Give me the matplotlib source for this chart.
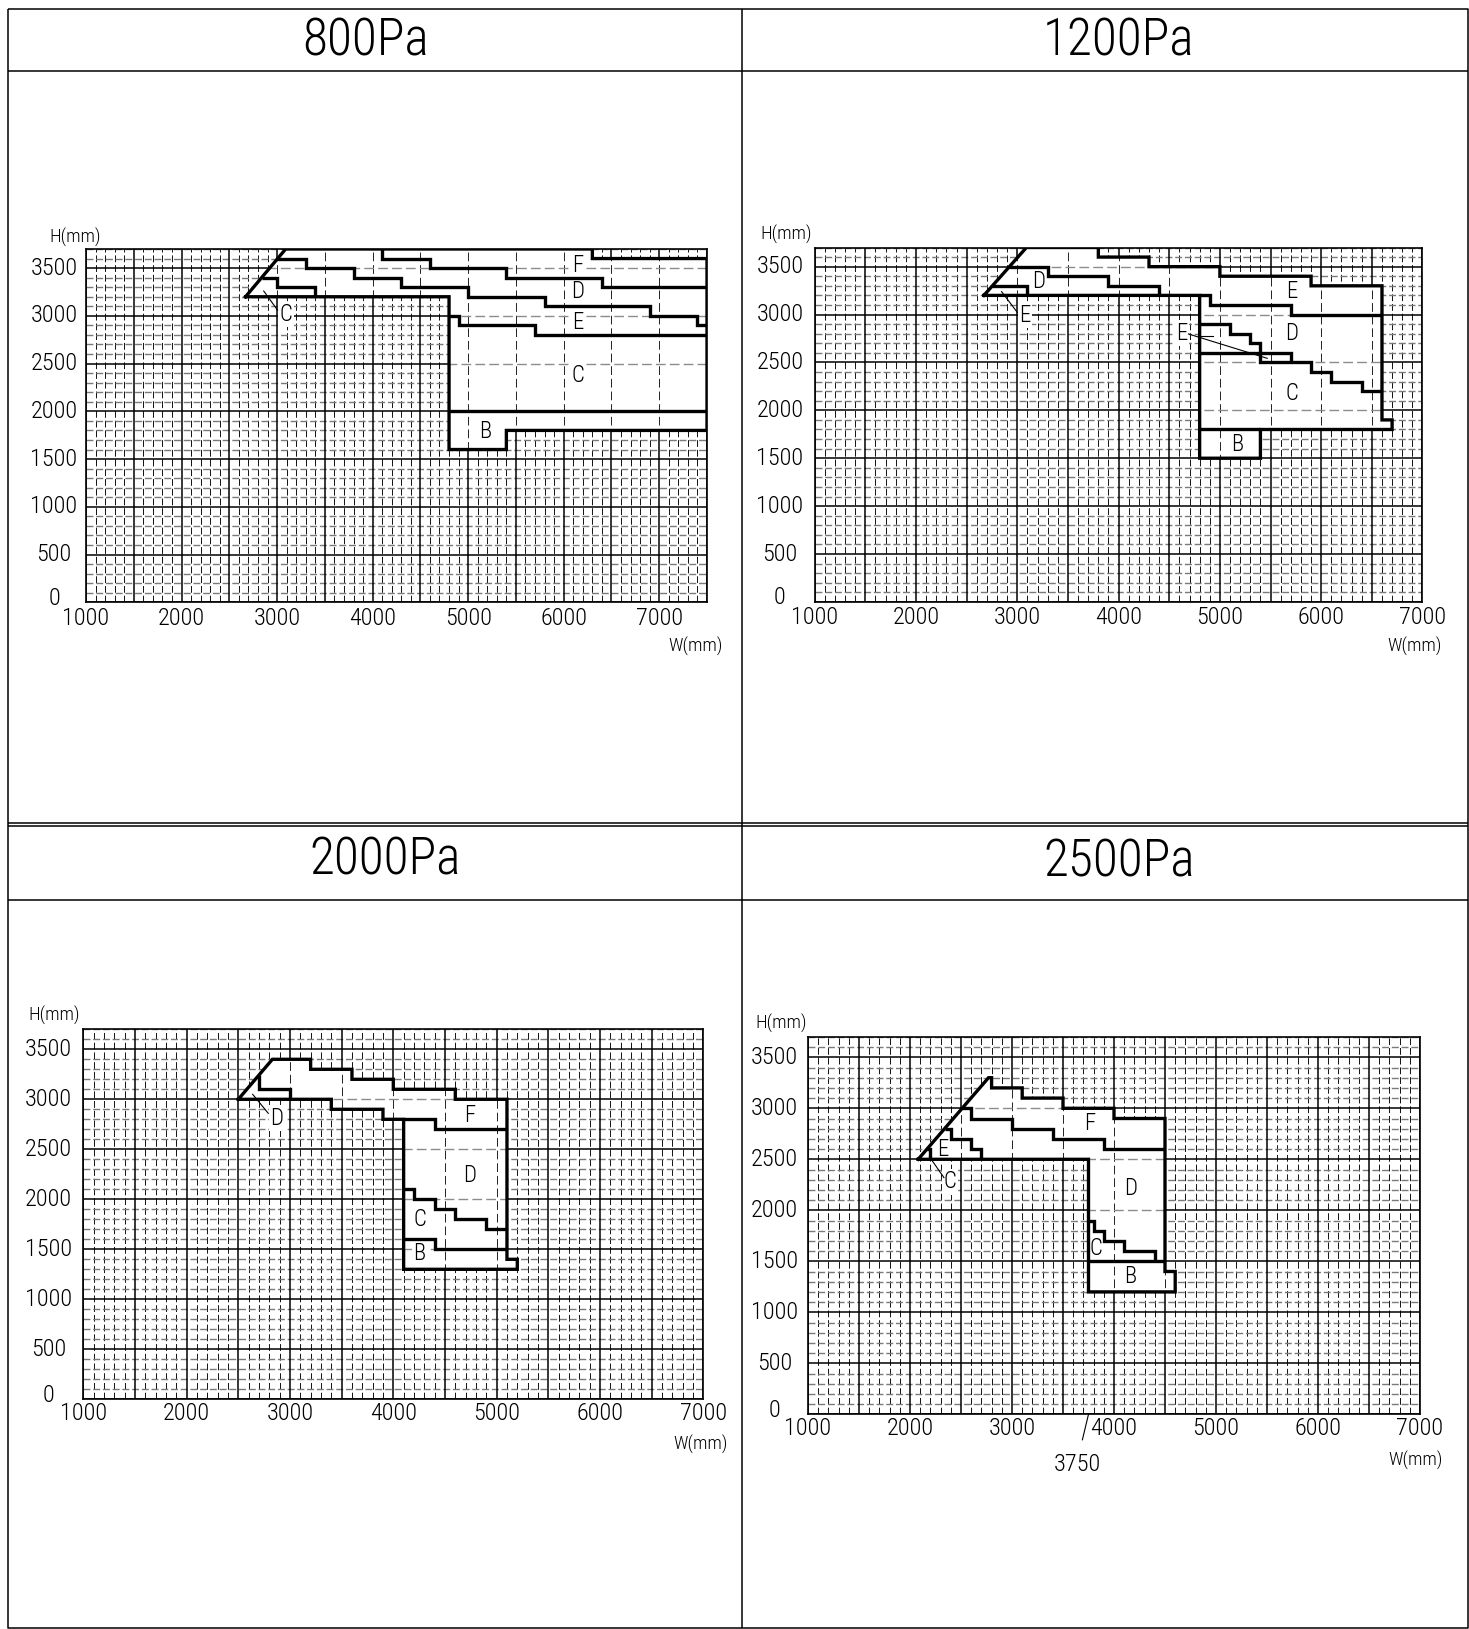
import matplotlib
matplotlib.use('Agg')
import matplotlib.pyplot as plt
from matplotlib.patches import Polygon
from matplotlib import font_manager as fm
import numpy as np

# ---------------- data ----------------
titles = ['800Pa', '1200Pa', '2000Pa', '2500Pa']
x_max = [7500, 7000, 7000, 7000]
x_tick_vals = [1000, 2000, 3000, 4000, 5000, 6000, 7000]
y_tick_vals = [0, 500, 1000, 1500, 2000, 2500, 3000, 3500]

# ---- 800Pa ----
p1_outer_w = [2670, 3090, 6300, 6300, 7500, 7500, 5400, 5400, 4800, 4800]
p1_outer_h = [3200, 3700, 3700, 3600, 3600, 1800, 1800, 1600, 1600, 3200]
p1_fd_w = [4100, 4100, 4600, 4600, 5400, 5400, 6400, 6400, 7500]
p1_fd_h = [3700, 3600, 3600, 3500, 3500, 3400, 3400, 3300, 3300]
p1_de_w = [3004, 3300, 3300, 3800, 3800, 4300, 4300, 5000, 5000, 5800, 5800, 6900, 6900, 7400, 7400, 7500]
p1_de_h = [3600, 3600, 3500, 3500, 3400, 3400, 3300, 3300, 3200, 3200, 3100, 3100, 3000, 3000, 2900, 2900]
p1_ec_w = [4800, 4900, 4900, 5700, 5700, 7500]
p1_ec_h = [3000, 3000, 2900, 2900, 2800, 2800]
p1_c_w = [2838, 3000, 3000, 3400, 3400]
p1_c_h = [3400, 3400, 3300, 3300, 3200]
p1_cb_w = [4800, 7500]
p1_cb_h = [2000, 2000]
p1_labels = [('F', 6150, 3530), ('D', 6150, 3250), ('E', 6150, 2930),
             ('C', 6150, 2380), ('B', 5180, 1790), ('C', 3095, 3015)]
p1_leaders = [((2860, 3260), (3005, 3060))]

# ---- 1200Pa ----
p2_outer_w = [2670, 3090, 3800, 3800, 4300, 4300, 5000, 5000, 5900, 5900, 6600, 6600, 6700, 6700, 5400, 5400, 4800, 4800]
p2_outer_h = [3200, 3700, 3700, 3600, 3600, 3500, 3500, 3400, 3400, 3300, 3300, 1900, 1900, 1800, 1800, 1500, 1500, 3200]
p2_a_w = [2922, 3300, 3300, 3900, 3900, 4400, 4400]
p2_a_h = [3500, 3500, 3400, 3400, 3300, 3300, 3200]
p2_d_w = [2754, 3100, 3100]
p2_d_h = [3300, 3300, 3200]
p2_b_w = [4800, 4900, 4900, 5700, 5700, 6600]
p2_b_h = [3200, 3200, 3100, 3100, 3000, 3000]
p2_c_w = [4800, 5100, 5100, 5300, 5300, 5400, 5400, 5900, 5900, 6100, 6100, 6400, 6400, 6600]
p2_c_h = [2900, 2900, 2800, 2800, 2700, 2700, 2500, 2500, 2400, 2400, 2300, 2300, 2200, 2200]
p2_e_w = [4800, 5700, 5700]
p2_e_h = [2600, 2600, 2500]
p2_cb_w = [4800, 5400]
p2_cb_h = [1800, 1800]
p2_labels = [('E', 5707, 3239), ('D', 5707, 2804), ('C', 5707, 2177), ('B', 5168, 1642),
             ('D', 3207, 3343), ('E', 3076, 2995), ('E', 4628, 2804)]
p2_leaders = [((2845, 3239), (3000, 3023)), ((4690, 2797), (5467, 2543)),
              ((4800, 2780), (4930, 2780))]

# ---- 2000Pa ----
p3_outer_w = [2500, 2830, 3200, 3200, 3600, 3600, 4000, 4000, 4600, 4600, 5100, 5100, 5200, 5200, 4100, 4100, 3900, 3900, 3400, 3400]
p3_outer_h = [3000, 3400, 3400, 3300, 3300, 3200, 3200, 3100, 3100, 3000, 3000, 1400, 1400, 1300, 1300, 2800, 2800, 2900, 2900, 3000]
p3_d_w = [2700, 2700, 3000, 3000]
p3_d_h = [3242, 3100, 3100, 3000]
p3_fd_w = [4100, 4400, 4400, 5100]
p3_fd_h = [2800, 2800, 2700, 2700]
p3_dc_w = [4100, 4200, 4200, 4400, 4400, 4600, 4600, 4900, 4900, 5100]
p3_dc_h = [2100, 2100, 2000, 2000, 1900, 1900, 1800, 1800, 1700, 1700]
p3_cb_w = [4100, 4400, 4400, 5100]
p3_cb_h = [1600, 1600, 1500, 1500]
p3_labels = [('F', 4742, 2843), ('D', 4735, 2243), ('C', 4258, 1800), ('B', 4252, 1453),
             ('D', 2871, 2810)]
p3_leaders = [((2639, 3050), (2790, 2860))]

# ---- 2500Pa ----
p4_outer_w = [2080, 2770, 2800, 2800, 3100, 3100, 3500, 3500, 4000, 4000, 4500, 4500, 4600, 4600, 3750, 3750]
p4_outer_h = [2500, 3300, 3300, 3200, 3200, 3100, 3100, 3000, 3000, 2900, 2900, 1400, 1400, 1200, 1200, 2500]
p4_fd_w = [2511, 2600, 2600, 3000, 3000, 3400, 3400, 3900, 3900, 4500]
p4_fd_h = [3000, 3000, 2900, 2900, 2800, 2800, 2700, 2700, 2600, 2600]
p4_e_w = [2339, 2400, 2400, 2600, 2600, 2700, 2700]
p4_e_h = [2800, 2800, 2700, 2700, 2600, 2600, 2500]
p4_c_w = [2166, 2200, 2200]
p4_c_h = [2600, 2600, 2500]
p4_dc_w = [3750, 3800, 3800, 3900, 3900, 4100, 4100, 4400, 4400]
p4_dc_h = [1900, 1900, 1800, 1800, 1700, 1700, 1600, 1600, 1500]
p4_cb_w = [3750, 4500]
p4_cb_h = [1500, 1500]
p4_labels = [('F', 3765, 2853), ('D', 4160, 2216), ('E', 2320, 2598), ('C', 2392, 2281),
             ('C', 3824, 1627), ('B', 4163, 1350)]
p4_leaders = [((2190, 2526), (2333, 2320))]
p4_note_val = 3750

# ---------------- fonts ----------------
names = {f.name for f in fm.fontManager.ttflist}
FONT = 'DejaVu Sans'
for cand in ['Liberation Sans Narrow', 'DejaVu Sans Condensed', 'Roboto Condensed',
             'Open Sans Condensed', 'Noto Sans Condensed']:
    if cand in names:
        FONT = cand
        break
NARROW = 'Narrow' in FONT
plt.rcParams['font.family'] = [FONT, 'DejaVu Sans']
plt.rcParams['font.stretch'] = 'condensed'
plt.rcParams['font.weight'] = 'light'
FS_TITLE = 37 if NARROW else 37
FS_TICK = 18 if NARROW else 17.5
FS_LAB = 16 if NARROW else 16.5
FS_UNIT = 13 if NARROW else 13.5

# ---------------- figure ----------------
WPX, HPX = 1469, 1629
fig = plt.figure(figsize=(WPX / 100, HPX / 100), dpi=100)
PT = 0.72  # points per pixel

bg = fig.add_axes([0, 0, 1, 1], zorder=0)
bg.set_xlim(0, WPX)
bg.set_ylim(HPX, 0)
bg.axis('off')
fk = dict(color='k', lw=1.1, solid_capstyle='butt')
bg.plot([8.3, 1468, 1468, 8.3, 8.3], [9.4, 9.4, 1628, 1628, 9.4], **fk)
bg.plot([741.7, 741.7], [9.4, 1628], **fk)
for yy in [70.6, 822.5, 826.0, 899.6]:
    bg.plot([8.3, 1468], [yy, yy], **fk)

title_pos = [(366, 41.5), (1119, 41.5), (385, 860), (1119, 862)]
for t, (tx, ty) in zip(titles, title_pos):
    bg.text(tx, ty, t, fontsize=FS_TITLE, ha='center', va='center')

# axes rectangles in pixels: left, right, top, bottom
rects = [(86, 707, 249, 602.3), (814.7, 1422.5, 247.5, 601.9),
         (83.3, 703.3, 1029.3, 1399.3), (808, 1420, 1036.9, 1414.3)]
ylab_off = [32, 34.7, 35, 33.5]
xlab_off = [16, 16, 14, 14]
h_pos = [(75, 237), (786, 234), (54, 1015), (781, 1023)]
w_pos = [(696, 646), (1415, 646), (701, 1444), (1416, 1460)]

panels = [
    dict(outer=(p1_outer_w, p1_outer_h),
         lines=[(p1_fd_w, p1_fd_h), (p1_de_w, p1_de_h), (p1_ec_w, p1_ec_h),
                (p1_c_w, p1_c_h), (p1_cb_w, p1_cb_h)],
         labels=p1_labels, leaders=p1_leaders),
    dict(outer=(p2_outer_w, p2_outer_h),
         lines=[(p2_a_w, p2_a_h), (p2_d_w, p2_d_h), (p2_b_w, p2_b_h), (p2_c_w, p2_c_h),
                (p2_e_w, p2_e_h), (p2_cb_w, p2_cb_h)],
         labels=p2_labels, leaders=p2_leaders),
    dict(outer=(p3_outer_w, p3_outer_h),
         lines=[(p3_d_w, p3_d_h), (p3_fd_w, p3_fd_h), (p3_dc_w, p3_dc_h), (p3_cb_w, p3_cb_h)],
         labels=p3_labels, leaders=p3_leaders),
    dict(outer=(p4_outer_w, p4_outer_h),
         lines=[(p4_fd_w, p4_fd_h), (p4_e_w, p4_e_h), (p4_c_w, p4_c_h),
                (p4_dc_w, p4_dc_h), (p4_cb_w, p4_cb_h)],
         labels=p4_labels, leaders=p4_leaders),
]

THICK = 2.4
axes = []
for i, pdef in enumerate(panels):
    l, r, t, b = rects[i]
    ax = fig.add_axes([l / WPX, 1 - b / HPX, (r - l) / WPX, (b - t) / HPX], zorder=1)
    axes.append(ax)
    xm = x_max[i]
    ax.set_xlim(1000, xm)
    ax.set_ylim(0, 3700)
    ax.set_xticks([])
    ax.set_yticks([])
    for s in ax.spines.values():
        s.set_linewidth(1.2)
        s.set_zorder(4)

    minor_x = [v for v in range(1000, xm + 1, 100) if v % 500]
    minor_y = [v for v in range(0, 3701, 100) if v % 500]
    major_x = list(range(1000, xm + 1, 500))
    major_y = list(range(0, 3701, 500))
    ax.vlines(minor_x, 0, 3700, colors='#111111', lw=0.7, linestyles=(0, (7, 3)), zorder=0.5)
    ax.hlines(minor_y, 1000, xm, colors='#7a7a7a', lw=1.0, linestyles=(0, (5, 2)), zorder=0.5)
    ax.vlines(major_x, 0, 3700, colors='k', lw=1.1, zorder=0.6)
    ax.hlines(major_y, 1000, xm, colors='k', lw=1.1, zorder=0.6)

    ow, oh = pdef['outer']
    poly = Polygon(np.column_stack([ow, oh]), closed=True, fc='white', ec='none', zorder=1)
    ax.add_patch(poly)
    iv = ax.vlines(major_x, 0, 3700, colors='#222222', lw=0.7, linestyles=(0, (9, 4)), zorder=1.2)
    ih = ax.hlines(major_y, 1000, xm, colors='#8c8c8c', lw=1.0, linestyles=(0, (7, 3)), zorder=1.2)
    iv.set_clip_path(poly)
    ih.set_clip_path(poly)

    ax.plot(list(ow) + [ow[0]], list(oh) + [oh[0]], color='k', lw=THICK,
            solid_joinstyle='miter', zorder=3)
    for (lw_, lh_) in pdef['lines']:
        ax.plot(lw_, lh_, color='k', lw=THICK, solid_joinstyle='miter',
                solid_capstyle='butt', zorder=3)
    for (s, wx, hy) in pdef['labels']:
        ax.text(wx, hy, s, fontsize=FS_LAB, ha='center', va='center', zorder=2.5,
                bbox=dict(fc='white', ec='none', pad=1.0))
    for (p0, p1) in pdef['leaders']:
        ax.plot([p0[0], p1[0]], [p0[1], p1[1]], color='k', lw=0.8, zorder=2.6)

    # tick labels
    for v in x_tick_vals:
        ax.annotate(str(v), xy=(v, 0), xycoords=('data', 'axes fraction'),
                    xytext=(0, -xlab_off[i] * PT), textcoords='offset points',
                    ha='center', va='center', fontsize=FS_TICK, annotation_clip=False)
    for v in y_tick_vals:
        dy = 4 * PT if v == 0 else 0
        ax.annotate(str(v), xy=(0, v), xycoords=('axes fraction', 'data'),
                    xytext=(-ylab_off[i] * PT, dy), textcoords='offset points',
                    ha='center', va='center', fontsize=FS_TICK, annotation_clip=False)
    bg.text(h_pos[i][0], h_pos[i][1], 'H(mm)', fontsize=FS_UNIT, ha='center', va='center')
    bg.text(w_pos[i][0], w_pos[i][1], 'W(mm)', fontsize=FS_UNIT, ha='center', va='center')

# 3750 annotation on the 2500Pa panel
ax4 = axes[3]
ax4.plot([p4_note_val, p4_note_val - 60], [0, -250], color='k', lw=0.8, clip_on=False, zorder=5)
ax4.text(p4_note_val - 113, -497, str(p4_note_val), fontsize=FS_TICK, ha='center', va='center',
         clip_on=False)

fig.savefig('out.png', dpi=100)
